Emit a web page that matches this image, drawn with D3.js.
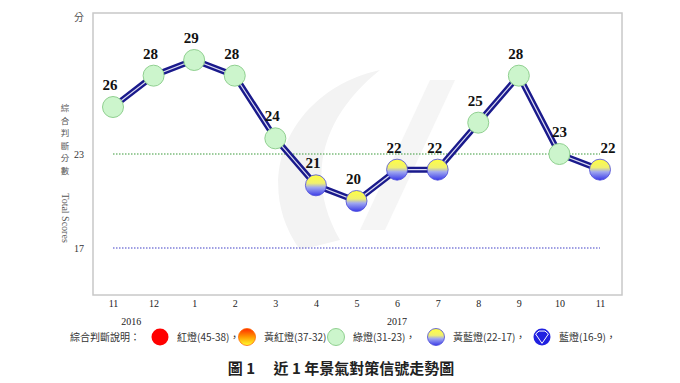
<!DOCTYPE html>
<html>
<head>
<meta charset="utf-8">
<script src="https://cdnjs.cloudflare.com/ajax/libs/d3/7.8.5/d3.min.js"></script>
<style>
  body { margin: 0; background: #fff; }
  svg text { font-family: "Liberation Serif", "Noto Sans CJK TC", serif; }
  .cjk { font-family: "Noto Sans CJK TC", sans-serif; }
</style>
</head>
<body>
<div id="chart"></div>
<script>
// data
const months = ['11', '12', '1', '2', '3', '4', '5', '6', '7', '8', '9', '10', '11'];
const scores = [26, 28, 29, 28, 24, 21, 20, 22, 22, 25, 28, 23, 22];
const years = [{ label: '2016', at: 0.45 }, { label: '2017', at: 7 }];
const yTicks = [23, 17];
const legendItems = [
  { kind: 'red', text: '紅燈(45-38)，' },
  { kind: 'yellowred', text: '黃紅燈(37-32)，' },
  { kind: 'green', text: '綠燈(31-23)，' },
  { kind: 'yellowblue', text: '黃藍燈(22-17)，' },
  { kind: 'blue', text: '藍燈(16-9)，' }
];

const signal = v => v >= 38 ? 'red' : v >= 32 ? 'yellowred' : v >= 23 ? 'green' : v >= 17 ? 'yellowblue' : 'blue';

// chart
const width = 680, height = 383;
const frame = { left: 93, top: 13, right: 622, bottom: 295 };

const svg = d3.select('#chart').append('svg')
  .attr('width', width).attr('height', height);

const defs = svg.append('defs');
const gYB = defs.append('linearGradient').attr('id', 'gYB').attr('x1', 0).attr('y1', 0).attr('x2', 0).attr('y2', 1);
gYB.append('stop').attr('offset', '0%').attr('stop-color', '#ffff40');
gYB.append('stop').attr('offset', '40%').attr('stop-color', '#f0f070');
gYB.append('stop').attr('offset', '60%').attr('stop-color', '#a0a8f0');
gYB.append('stop').attr('offset', '100%').attr('stop-color', '#3a3ae8');
const gYR = defs.append('linearGradient').attr('id', 'gYR').attr('x1', 0).attr('y1', 0).attr('x2', 0).attr('y2', 1);
gYR.append('stop').attr('offset', '0%').attr('stop-color', '#ff2a00');
gYR.append('stop').attr('offset', '50%').attr('stop-color', '#ff9a00');
gYR.append('stop').attr('offset', '100%').attr('stop-color', '#ffff30');

const xScale = d3.scalePoint()
  .domain(d3.range(months.length))
  .range([113, 600]);
const yScale = d3.scaleLinear()
  .domain([14, 32])
  .range([frame.bottom, frame.top]);

// frame
svg.append('rect')
  .attr('x', frame.left).attr('y', frame.top)
  .attr('width', frame.right - frame.left).attr('height', frame.bottom - frame.top)
  .style('fill', 'none').style('stroke', '#c8c8c8').style('stroke-width', 1.5);

// faint watermark
svg.append('path')
  .attr('d', 'M300,250 C250,180 290,90 380,70 C330,110 300,170 340,240 Z')
  .style('fill', '#f3f3f3');
svg.append('path')
  .attr('d', 'M360,230 L430,80 L455,80 L385,230 Z')
  .style('fill', '#f5f5f5');

// reference lines
svg.selectAll('.ref')
  .data(yTicks)
  .enter().append('line')
  .attr('x1', xScale(0)).attr('x2', xScale(months.length - 1))
  .attr('y1', d => yScale(d)).attr('y2', d => yScale(d))
  .style('stroke', (d, i) => i === 0 ? '#3a9a3a' : '#4040c8')
  .style('stroke-width', 1.2)
  .style('stroke-dasharray', '1.5,1.5');

// y axis
const yAxis = d3.axisLeft(yScale).tickValues(yTicks).tickSize(0).tickPadding(0);
const yAxisG = svg.append('g')
  .attr('transform', `translate(84,0)`)
  .call(yAxis);
yAxisG.select('.domain').remove();
yAxisG.selectAll('text').style('font-size', '10px').style('fill', '#333');

svg.append('text').attr('class', 'cjk')
  .attr('x', 84).attr('y', 21)
  .style('text-anchor', 'end').style('font-size', '10px').style('fill', '#555')
  .text('分');

// y title
const yTitle = '綜合判斷分數';
svg.append('g').selectAll('text')
  .data(yTitle.split(''))
  .enter().append('text').attr('class', 'cjk')
  .attr('x', 65).attr('y', (d, i) => 111 + i * 12.6)
  .style('text-anchor', 'middle').style('font-size', '8.5px').style('fill', '#555')
  .text(d => d);
svg.append('text')
  .attr('transform', 'translate(62,218) rotate(90)')
  .style('text-anchor', 'middle').style('font-size', '10px').style('fill', '#555')
  .text('Total Scores');

// x axis
const xAxis = d3.axisBottom(xScale).tickSize(0).tickPadding(0).tickFormat(i => months[i]);
const xAxisG = svg.append('g')
  .attr('transform', `translate(0,300)`)
  .call(xAxis);
xAxisG.select('.domain').remove();
xAxisG.selectAll('text').style('font-size', '10px').style('fill', '#222');

svg.append('g').selectAll('text')
  .data(years)
  .enter().append('text')
  .attr('x', d => xScale(0) + d.at * (xScale(1) - xScale(0)))
  .attr('y', 325)
  .style('text-anchor', 'middle').style('font-size', '10px').style('fill', '#222')
  .text(d => d.label);

// line
const lineGen = d3.line()
  .x((d, i) => xScale(i))
  .y(d => yScale(d));
svg.append('path')
  .attr('d', lineGen(scores))
  .style('fill', 'none').style('stroke', '#1a1a8c').style('stroke-width', 6)
  .style('stroke-linejoin', 'round');
svg.append('path')
  .attr('d', lineGen(scores))
  .style('fill', 'none').style('stroke', '#dcdcf2').style('stroke-width', 1.2);

// markers
const drawMarker = (g, kind, r) => {
  if (kind === 'green') {
    g.append('circle').attr('r', r).style('fill', '#ccf5cc').style('stroke', '#90d090').style('stroke-width', 1);
  } else if (kind === 'yellowblue') {
    g.append('circle').attr('r', r).style('fill', 'url(#gYB)').style('stroke', '#4848d8').style('stroke-width', 0.8);
  } else if (kind === 'yellowred') {
    g.append('circle').attr('r', r).style('fill', 'url(#gYR)').style('stroke', '#ff6a00').style('stroke-width', 0.8);
  } else if (kind === 'red') {
    g.append('circle').attr('r', r).style('fill', '#ff0000');
  } else {
    g.append('circle').attr('r', r).style('fill', '#2020e0');
    g.append('path')
      .attr('d', `M${-r * 0.75},${-r * 0.35} L${-r * 0.35},${-r * 0.7} L${r * 0.35},${-r * 0.7} L${r * 0.75},${-r * 0.35} L0,${r * 0.75} Z`)
      .style('fill', 'none').style('stroke', '#ffffff').style('stroke-width', 1);
  }
};

svg.append('g').selectAll('g')
  .data(scores)
  .enter().append('g')
  .attr('transform', (d, i) => `translate(${xScale(i)},${yScale(d)})`)
  .each(function (d) { drawMarker(d3.select(this), signal(d), 10.5); });

// value labels
svg.append('g').selectAll('text')
  .data(scores)
  .enter().append('text')
  .attr('x', (d, i) => xScale(i) + (i === months.length - 1 ? 8 : (i === 11 ? 0 : -3)))
  .attr('y', d => yScale(d) - 17)
  .style('text-anchor', 'middle').style('font-size', '15px').style('font-weight', 'bold').style('fill', '#111')
  .text(d => d);

// legend
const legend = svg.append('g').attr('transform', 'translate(0,341)');
legend.append('text').attr('class', 'cjk')
  .attr('x', 70).attr('y', 0)
  .style('font-size', '10px').style('fill', '#333')
  .text('綜合判斷說明：');
const legendX = [160, 247, 336, 436, 542];
legendItems.forEach((d, i) => {
  const g = legend.append('g').attr('transform', `translate(${legendX[i]},-4)`);
  drawMarker(g, d.kind, 8.5);
  legend.append('text').attr('class', 'cjk')
    .attr('x', legendX[i] + 17).attr('y', 0)
    .style('font-size', '10px').style('fill', '#333')
    .text(d.text);
});

// caption
svg.append('text').attr('class', 'cjk')
  .attr('x', 341).attr('y', 374)
  .style('text-anchor', 'middle').style('font-size', '15px').style('font-weight', 'bold').style('fill', '#222')
  .text('圖 1　 近 1 年景氣對策信號走勢圖');
</script>
</body>
</html>
